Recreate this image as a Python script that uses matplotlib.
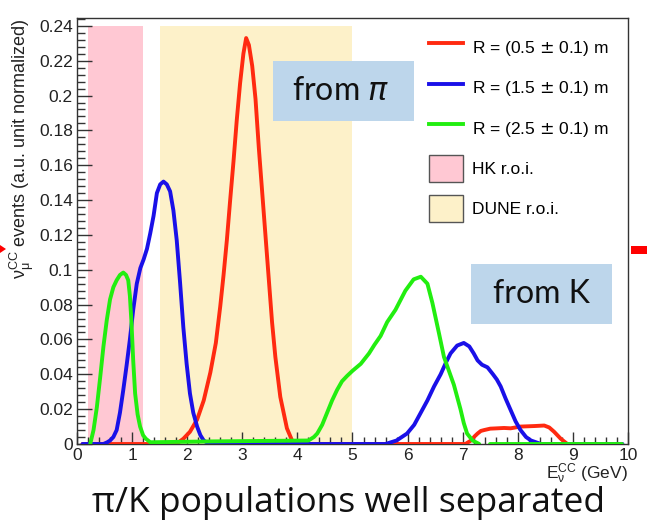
import numpy as np
import matplotlib
matplotlib.use("Agg")
import matplotlib.pyplot as plt
from matplotlib.patches import Patch, Rectangle, Polygon
from matplotlib.lines import Line2D
from matplotlib.ticker import MultipleLocator, FuncFormatter

# spectra per detector radius (E in GeV, normalized events)
e_r05 = [0.1, 1.0, 1.8, 1.93, 2.05, 2.18, 2.3, 2.42, 2.52, 2.6, 2.66, 2.72, 2.78, 2.84,
         2.9, 2.96, 3.02, 3.07, 3.12, 3.18, 3.24, 3.30, 3.36, 3.42, 3.48, 3.54, 3.6,
         3.69, 3.81, 3.93, 4.2, 7.05, 7.15, 7.22, 7.27, 7.33, 7.39, 7.5, 7.63, 7.75,
         7.87, 7.96, 8.05, 8.3, 8.48, 8.57, 8.66, 8.72, 8.78, 8.84, 8.9]
y_r05 = [0.0, 0.0, 0.0, 0.003, 0.007, 0.014, 0.025, 0.041, 0.058, 0.079, 0.097, 0.117,
         0.140, 0.162, 0.186, 0.207, 0.224, 0.233, 0.229, 0.217, 0.198, 0.170, 0.145,
         0.120, 0.095, 0.070, 0.050, 0.027, 0.009, 0.0, 0.0, 0.0, 0.002, 0.0045, 0.006,
         0.0075, 0.008, 0.0088, 0.009, 0.0092, 0.009, 0.0095, 0.010, 0.0103, 0.0106,
         0.0095, 0.007, 0.005, 0.003, 0.0015, 0.0]

e_r15 = [0.1, 0.48, 0.55, 0.6, 0.66, 0.72, 0.78, 0.84, 0.9, 0.96, 1.02, 1.085, 1.15,
         1.21, 1.27, 1.33, 1.39, 1.45, 1.51, 1.57, 1.63, 1.69, 1.75, 1.81, 1.87, 1.93,
         1.99, 2.05, 2.11, 2.18, 2.24, 2.3, 2.4, 5.6, 5.8, 5.99, 6.12, 6.24, 6.36, 6.48,
         6.6, 6.7, 6.78, 6.9, 7.02, 7.12, 7.2, 7.27, 7.35, 7.45, 7.55, 7.62, 7.69, 7.78,
         7.87, 7.96, 8.05, 8.15, 8.24, 8.42, 9.9]
y_r15 = [0.0, 0.0, 0.001, 0.002, 0.004, 0.008, 0.018, 0.031, 0.045, 0.060, 0.077,
         0.092, 0.101, 0.106, 0.112, 0.121, 0.131, 0.144, 0.149, 0.1506, 0.149, 0.145,
         0.134, 0.117, 0.093, 0.067, 0.046, 0.029, 0.018, 0.010, 0.005, 0.002, 0.0, 0.0,
         0.002, 0.006, 0.011, 0.018, 0.025, 0.033, 0.040, 0.047, 0.052, 0.0565, 0.058,
         0.056, 0.052, 0.048, 0.0455, 0.044, 0.040, 0.037, 0.033, 0.026, 0.0195, 0.013,
         0.008, 0.004, 0.002, 0.0, 0.0]

e_r25 = [0.24, 0.30, 0.36, 0.42, 0.48, 0.54, 0.6, 0.66, 0.72, 0.78, 0.84, 0.89, 0.93,
         0.96, 0.99, 1.02, 1.055, 1.1, 1.145, 1.2, 1.25, 1.33, 2.5, 4.2, 4.3, 4.36,
         4.45, 4.54, 4.63, 4.72, 4.81, 4.9, 5.0, 5.15, 5.3, 5.4, 5.51, 5.63, 5.78, 5.96,
         6.11, 6.24, 6.36, 6.45, 6.57, 6.66, 6.75, 6.84, 6.96, 7.02, 7.08, 7.18, 7.3]
y_r25 = [0.0, 0.008, 0.021, 0.038, 0.056, 0.071, 0.083, 0.090, 0.094, 0.097, 0.0984,
         0.097, 0.094, 0.085, 0.069, 0.048, 0.029, 0.017, 0.010, 0.005, 0.003, 0.001,
         0.0015, 0.002, 0.004, 0.006, 0.011, 0.018, 0.025, 0.031, 0.036, 0.039, 0.042,
         0.046, 0.052, 0.057, 0.062, 0.070, 0.077, 0.088, 0.0945, 0.096, 0.092, 0.081,
         0.0635, 0.050, 0.042, 0.034, 0.020, 0.012, 0.006, 0.002, 0.0]
e_r25_tail = [7.5, 9.9]
y_r25_tail = [0.0, 0.0]

labels = ["R = (0.5 $\\pm$ 0.1) m", "R = (1.5 $\\pm$ 0.1) m", "R = (2.5 $\\pm$ 0.1) m"]
line_colors = ["#ff2a10", "#1a10e8", "#22ee10"]

hk_roi = (0.2, 1.2)
dune_roi = (1.5, 5.0)
roi_top = 0.24

plt.rcParams["font.family"] = ["Liberation Sans", "DejaVu Sans"]

fig = plt.figure(figsize=(6.47, 5.25), dpi=100)
ax = fig.add_axes([0.119, 0.1543, 0.8516, 0.8114])

pink = "#ffc8d3"
cream = "#fdf1c9"
ax.add_patch(Rectangle((hk_roi[0], 0), hk_roi[1] - hk_roi[0], roi_top,
                       facecolor=pink, edgecolor="none", zorder=0))
ax.add_patch(Rectangle((dune_roi[0], 0), dune_roi[1] - dune_roi[0], roi_top,
                       facecolor=cream, edgecolor="none", zorder=0))

lw = 2.8
style = dict(lw=lw, solid_capstyle="round", solid_joinstyle="round")
ax.plot(e_r05, y_r05, color=line_colors[0], zorder=3, **style)
ax.plot(e_r15, y_r15, color=line_colors[1], zorder=4, **style)
ax.plot(e_r25, y_r25, color=line_colors[2], zorder=5, **style)
ax.plot(e_r25_tail, y_r25_tail, color=line_colors[2], zorder=5, **style)

ax.set_xlim(0, 10)
ax.set_ylim(0, 0.2445)
ax.xaxis.set_major_locator(MultipleLocator(1))
ax.xaxis.set_minor_locator(MultipleLocator(0.2))
ax.yaxis.set_major_locator(MultipleLocator(0.02))
ax.yaxis.set_minor_locator(MultipleLocator(0.004))
ax.yaxis.set_major_formatter(FuncFormatter(lambda v, p: "%g" % round(v, 3)))
ax.tick_params(axis="both", which="both", direction="in", labelsize=12.5, width=1.0,
               color="#333333", labelcolor="#222222")
ax.tick_params(axis="y", which="major", length=11, pad=3)
ax.tick_params(axis="y", which="minor", length=6)
ax.tick_params(axis="x", which="major", length=9, pad=3)
ax.tick_params(axis="x", which="minor", length=5)
for s in ax.spines.values():
    s.set_linewidth(1.0)
    s.set_color("#333333")

ax.set_ylabel("$\\mathregular{\\nu_\\mu^{CC}}$ events (a.u. unit normalized)",
              fontsize=13, color="#222222", ha="right")
ax.yaxis.set_label_coords(-0.074, 1.0)
ax.set_xlabel("$\\mathregular{E_\\nu^{CC}}$ (GeV)", fontsize=12.5, color="#222222",
              ha="right")
ax.xaxis.set_label_coords(1.0, -0.042)

handles = [Line2D([], [], color=c, lw=2.8) for c in line_colors]
handles += [Patch(facecolor=pink, edgecolor="#555555"),
            Patch(facecolor=cream, edgecolor="#555555")]
ax.legend(handles, labels + ["HK r.o.i.", "DUNE r.o.i."], loc="upper right",
          bbox_to_anchor=(0.99, 0.995), frameon=False, fontsize=12.5,
          handlelength=2.0, handleheight=2.0, labelspacing=0.78, handletextpad=0.5,
          borderpad=0.3)

box = "#bdd6eb"
fig.patches.append(Rectangle((272.7 / 647, 1 - 120.7 / 525), 141.3 / 647, 60 / 525,
                             transform=fig.transFigure, facecolor=box,
                             edgecolor="none", zorder=1))
fig.text(341 / 647, 1 - 91 / 525, "from $\\pi$", fontsize=23, family="Lato",
         ha="center", va="center", color="#111111", zorder=2)
fig.patches.append(Rectangle((470.7 / 647, 1 - 324 / 525), 141.3 / 647, 60 / 525,
                             transform=fig.transFigure, facecolor=box,
                             edgecolor="none", zorder=1))
fig.text(541 / 647, 1 - 294 / 525, "from K", fontsize=23, family="Lato",
         ha="center", va="center", color="#111111", zorder=2)

fig.text(348 / 647, 1 - 503 / 525, "\u03c0/K populations well separated",
         fontsize=25.5, family="Open Sans", ha="center", va="center", color="#111111")

# red markers at the slide edges
fig.patches.append(Rectangle((631 / 647, 1 - 253.5 / 525), 16 / 647, 7.5 / 525,
                             transform=fig.transFigure, facecolor="#ff0000",
                             edgecolor="none"))
fig.patches.append(Polygon([(0, 1 - 245 / 525), (6 / 647, 1 - 249 / 525),
                            (0, 1 - 253 / 525)], closed=True,
                           transform=fig.transFigure, facecolor="#ff0000",
                           edgecolor="none"))

fig.savefig("out.png", dpi=100)
